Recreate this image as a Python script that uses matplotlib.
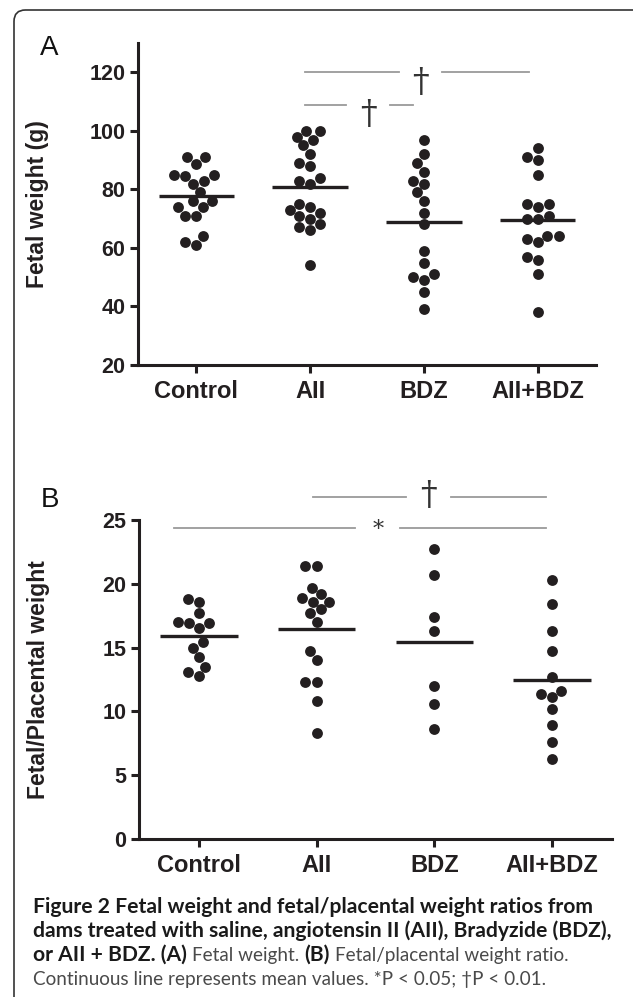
import numpy as np
import pandas as pd
import matplotlib
matplotlib.use("Agg")
import matplotlib.pyplot as plt
import seaborn as sns
from matplotlib.patches import FancyBboxPatch

plt.rcParams['font.family'] = ['Liberation Sans', 'DejaVu Sans']

groups = ['Control', 'AII', 'BDZ', 'AII+BDZ']

# panel A - fetal weight (g)
fw_control = [88.8, 91, 91, 85, 84.5, 85, 83, 82, 79, 76, 74, 74, 76, 71, 71, 64, 61, 62]
fw_aii = [100, 97, 95, 98, 100, 92, 88, 89, 83, 82, 84, 75, 73, 71, 72, 74, 70, 67, 66, 68, 54]
fw_bdz = [97, 92, 89, 86, 82, 83, 79, 76, 72, 68, 59, 55, 50, 49, 51, 45, 39]
fw_aii_bdz = [94, 90, 91, 85, 75, 75, 74, 71, 70, 70, 64, 64, 63, 62, 56, 57, 51, 38]

# panel B - fetal/placental weight ratio
fp_control = [18.6, 18.8, 17.7, 16.9, 16.5, 16.9, 17.0, 15.0, 15.4, 14.3, 13.5, 12.8, 13.1]
fp_aii = [21.4, 21.4, 19.7, 19.2, 18.9, 18.6, 18.6, 18.0, 17.7, 17.0, 14.7, 14.0, 12.3, 12.3, 10.8, 8.3]
fp_bdz = [22.7, 20.7, 17.4, 16.3, 12.0, 10.6, 8.6]
fp_aii_bdz = [20.3, 18.4, 16.3, 14.7, 12.7, 11.4, 11.1, 11.6, 10.2, 8.9, 7.6, 6.3]

yticks_a = [20, 40, 60, 80, 100, 120]
yticks_b = [0, 5, 10, 15, 20, 25]

DOT = '#231f20'
SIG = '#9a9a9a'
W, H = 633, 997

fig = plt.figure(figsize=(W / 100, H / 100), dpi=100)

# rounded frame (open at right / bottom edge of the crop)
frame = FancyBboxPatch((14 / W, -30 / H), 660 / W, (H - 10 + 30) / H,
                       boxstyle="round,pad=0,rounding_size=0.018",
                       transform=fig.transFigure, fill=False,
                       edgecolor='#333333', lw=1.2, mutation_aspect=W / H)
fig.patches.append(frame)

axA = fig.add_axes([138 / W, 1 - 365 / H, 458 / W, 322 / H])
axB = fig.add_axes([139 / W, 1 - 839 / H, 473 / W, 319 / H])


def dot_panel(ax, series, ylim, yticks, ylabel):
    df = pd.DataFrame({'group': np.repeat(groups, [len(s) for s in series]),
                       'value': np.concatenate(series)})
    sns.swarmplot(data=df, x='group', y='value', order=groups, ax=ax,
                  color=DOT, size=7.8, linewidth=0, zorder=2)
    means = df.groupby('group')['value'].mean().reindex(groups)
    ax.hlines(means.values, np.arange(4) - 0.33, np.arange(4) + 0.33,
              color=DOT, lw=2.4, zorder=3)
    ax.set_xlim(-0.51, 3.51)
    ax.set_ylim(*ylim)
    ax.set_yticks(yticks)
    ax.set_xticks(range(4))
    ax.set_xticklabels(groups, fontsize=17, fontweight='bold', color=DOT)
    ax.set_yticklabels([str(t) for t in yticks], fontsize=15.5,
                       fontweight='bold', color=DOT)
    ax.set_xlabel('')
    ax.set_ylabel(ylabel, fontsize=16.5, fontweight='bold', color=DOT)
    for s in ['top', 'right']:
        ax.spines[s].set_visible(False)
    for s in ['left', 'bottom']:
        ax.spines[s].set_linewidth(2.2)
        ax.spines[s].set_color(DOT)
    ax.tick_params(direction='out', length=6, width=2.2, color=DOT, pad=3)
    ax.tick_params(axis='x', pad=5)


def sig_bar(ax, x0, x1, y, xs, sym, ys, gap=0.19, size=24, family='DejaVu Serif'):
    ax.plot([x0, xs - gap], [y, y], color=SIG, lw=1.3, clip_on=False)
    ax.plot([xs + gap, x1], [y, y], color=SIG, lw=1.3, clip_on=False)
    ax.text(xs, ys, sym, ha='center', va='center', fontsize=size,
            family=family, color='#333333', clip_on=False, fontweight='light')


dot_panel(axA, [fw_control, fw_aii, fw_bdz, fw_aii_bdz], (20, 130), yticks_a,
          'Fetal weight (g)')
dot_panel(axB, [fp_control, fp_aii, fp_bdz, fp_aii_bdz], (0, 25), yticks_b,
          'Fetal/Placental weight')
axA.yaxis.set_label_coords(-0.194, 0.5)
axB.yaxis.set_label_coords(-0.188, 0.5)

sig_bar(axA, 1 - 0.045, 3 - 0.08, 120, 1.97, '\u2020', 116.5)
sig_bar(axA, 1 - 0.045, 2 - 0.10, 108.7, 1.51, '\u2020', 105.5)
sig_bar(axB, 1 - 0.03, 3 - 0.05, 26.8, 1.95, '\u2020', 26.9)
sig_bar(axB, 0 - 0.21, 3 - 0.05, 24.4, 1.52, '*', 24.2, size=16)

fig.text(40 / W, 1 - 55 / H, 'A', fontsize=20, va='baseline', color='#111111')
fig.text(41 / W, 1 - 507 / H, 'B', fontsize=20, va='baseline', color='#111111')

# caption, pieces of mixed weight laid out one after another
BOLD_C = '#1a1a1a'
REG_C = '#4a4a4a'
cap_lines = [
    [('Figure 2 Fetal weight and fetal/placental weight ratios from', 'bold')],
    [('dams treated with saline, angiotensin II (AII), Bradyzide (BDZ),', 'bold')],
    [('or AII + BDZ. (A)', 'bold'), (' Fetal weight.', 'normal'),
     (' (B)', 'bold'), (' Fetal/placental weight ratio.', 'normal')],
    [('Continuous line represents mean values. *P < 0.05; \u2020P < 0.01.', 'normal')],
]
cap_base = [913, 937, 961, 985]
cap_size = {'bold': 15.2, 'normal': 13.6}
for pieces, yb in zip(cap_lines, cap_base):
    prev = None
    for txt, wt in pieces:
        col = BOLD_C if wt == 'bold' else REG_C
        kw = dict(fontsize=cap_size[wt], fontweight=wt, color=col, va='baseline',
                  ha='left', family=['Lato', 'DejaVu Sans'], annotation_clip=False)
        if prev is None:
            prev = axB.annotate(txt, xy=(33, H - yb), xycoords='figure pixels', **kw)
        else:
            lead = 5.2 if txt.startswith(' ') else 0
            prev = axB.annotate(txt.lstrip(), xy=(1, (H - yb) / H),
                                xycoords=(prev, 'figure fraction'),
                                xytext=(lead, 0), textcoords='offset pixels', **kw)

fig.savefig('out.png', dpi=100)
